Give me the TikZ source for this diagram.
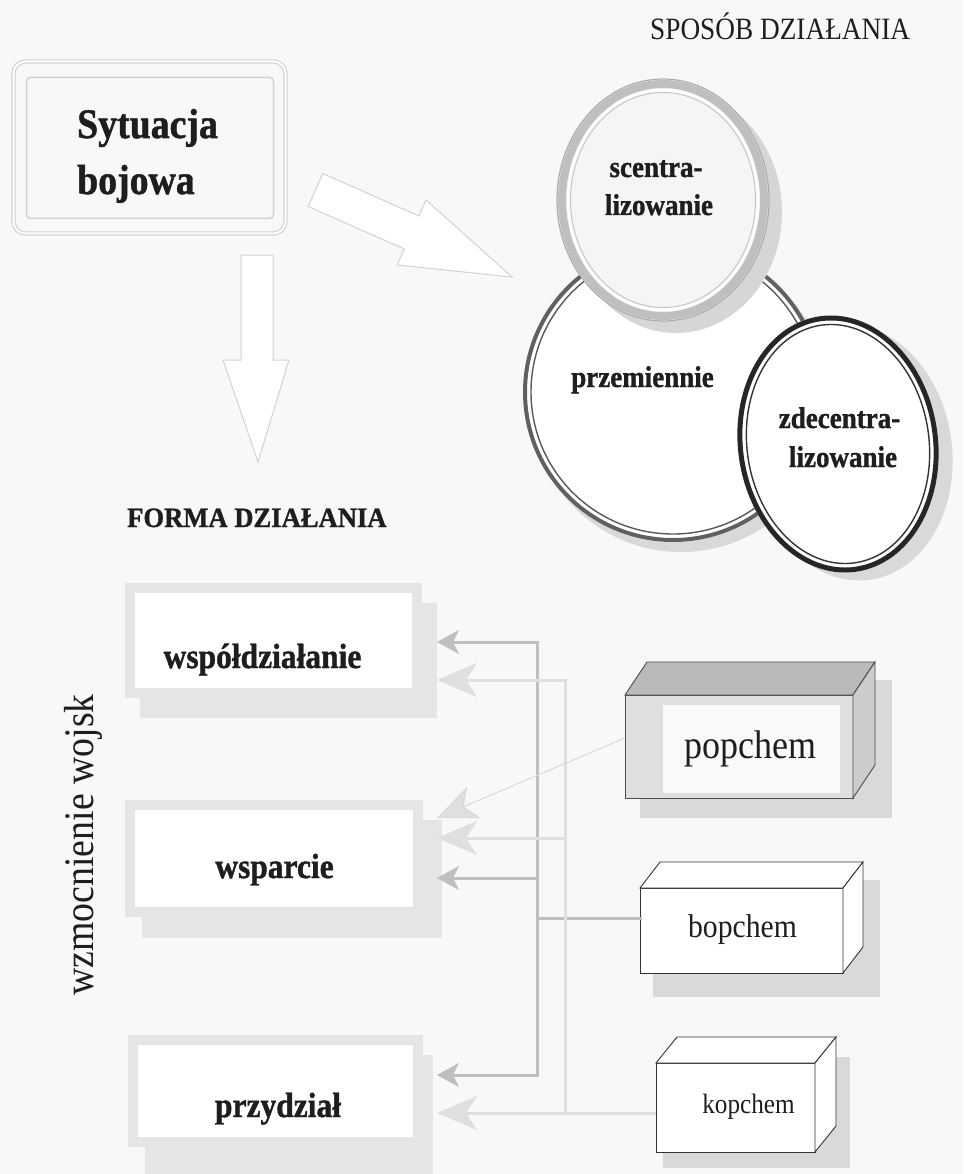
\documentclass[tikz,border=0pt]{standalone}
\usepackage{fontspec}
\setmainfont[BoldFeatures={FakeBold=1.2}]{Liberation Serif}
\usetikzlibrary{arrows.meta,calc}
\definecolor{ink}{HTML}{1E1E1E}
\definecolor{paper}{HTML}{F8F8F8}
\newcommand{\narrow}[2][0.9]{\scalebox{#1}[1]{#2}}

\begin{document}
\begin{tikzpicture}[x=1pt,y=-1pt,
  boldtext/.style={text=ink, inner sep=0pt, font=\fontsize{#1}{#1}\selectfont\bfseries},
  plaintext/.style={text=ink, inner sep=0pt, font=\fontsize{#1}{#1}\selectfont},
  blockarrow/.style={draw=gray!35, line width=1, fill=white},
  formframe/.style={draw=gray!20, line width=10, fill=white, inner sep=0pt, outer sep=0pt},
  formshadow/.style={fill=gray!20},
  cubeshadow/.style={fill=gray!30},
  cubeface/.style={draw=black!80, line width=0.9, fill=white, inner sep=0pt, outer sep=0pt},
  darktrunk/.style={draw=gray!50, line width=3, line cap=rect},
  lighttrunk/.style={draw=gray!25, line width=3, line cap=rect},
  darkflow/.style={draw=gray!50, line width=3, -{Stealth[length=22pt,width=24pt,inset=6pt]}},
  lightflow/.style={draw=gray!25, line width=3, -{Stealth[length=40pt,width=34pt,inset=11pt]}},
  lightthin/.style={draw=gray!30, line width=1, -{Stealth[length=40pt,width=34pt,inset=11pt,fill=gray!25]}},
]
\fill[paper] (0,0) rectangle (963,1174);
\useasboundingbox (0,0) rectangle (963,1174);

% --- combat situation box ---
\node[draw=gray!35, double=white, double distance=2, line width=1.2, rounded corners=12,
      minimum width=272, minimum height=172, inner sep=0pt, outer sep=0pt] (sit) at (149.5,147.5) {};
\draw[gray!35, line width=1.5, rounded corners=4]
  ($(sit.north west)+(13,16)$) rectangle ($(sit.south east)+(-12,-15)$);
\node[boldtext=42, anchor=base west] (sit1) at (77,138) {\narrow[0.9]{Sytuacja}};
\node[boldtext=42, anchor=base west] (sit2) at (77,194) {\narrow[0.9]{bojowa}};

% --- block arrows ---
\draw[blockarrow] (241,255) -- (273,255) -- (273,360) -- (289,360) -- (258,462)
  -- (223,360) -- (241,360) -- cycle;
\draw[blockarrow] (322.8,173.5) -- (418.9,216) -- (426,200) -- (512.2,277.1)
  -- (397.2,265) -- (404.3,249) -- (308.2,206.5) -- cycle;

% --- manner of action: three rings ---
\node[plaintext=31, anchor=base west] (sposob) at (650,40) {\narrow[0.88]{SPOSÓB DZIAŁANIA}};

\coordinate (cP) at (673,392);
\fill[gray!30] ($(cP)+(8,10)$) circle[radius=150];
\fill[white] (cP) circle[radius=150];
\draw[gray!75!black, line width=4] (cP) circle[radius=148];
\draw[gray!70!black, line width=1.4] (cP) circle[radius=142];

\coordinate (cS) at (663,200);
\fill[gray!32] ($(cS)+(13,12)$) ellipse[x radius=106, y radius=121];
\fill[gray!8] (cS) ellipse[x radius=106, y radius=121];
\draw[gray!50, line width=8] (cS) ellipse[x radius=101, y radius=116];
\draw[gray!65, line width=1.2] (cS) ellipse[x radius=106, y radius=121];
\draw[white, line width=2] (cS) ellipse[x radius=95, y radius=110];
\draw[gray!45, line width=1] (cS) ellipse[x radius=92.5, y radius=107.5];

\coordinate (cZ) at (838,444);
\fill[gray!30] ($(cZ)+(14,8)$) ellipse[x radius=100, y radius=129, rotate=8];
\fill[white] (cZ) ellipse[x radius=100, y radius=129, rotate=8];
\draw[black!85, line width=5] (cZ) ellipse[x radius=97.5, y radius=126.5, rotate=8];
\draw[black!80, line width=1.4] (cZ) ellipse[x radius=91, y radius=120, rotate=8];

\node[boldtext=30, anchor=base] (sc1) at (656,177) {\narrow{scentra-}};
\node[boldtext=30, anchor=base] (sc2) at (659,215) {\narrow{lizowanie}};
\node[boldtext=30, anchor=base] (prz) at (642.5,387) {\narrow{przemiennie}};
\node[boldtext=30, anchor=base] (zd1) at (839.5,428) {\narrow{zdecentra-}};
\node[boldtext=30, anchor=base] (zd2) at (843,467) {\narrow{lizowanie}};

% --- form of action ---
\node[boldtext=28, anchor=base west] (forma) at (127,527) {\narrow[0.95]{FORMA DZIAŁANIA}};

\fill[formshadow] (140,603) rectangle (437,718);
\node[formframe, minimum width=287, minimum height=105] (f1) at (273.5,640.5) {};
\node[boldtext=35, anchor=base] (f1t) at (262.5,668) {\narrow{współdziałanie}};

\fill[formshadow] (142,820) rectangle (442,938);
\node[formframe, minimum width=288, minimum height=107] (f2) at (274,858.5) {};
\node[boldtext=35, anchor=base] (f2t) at (274.5,878) {\narrow{wsparcie}};

\fill[formshadow] (145,1055) rectangle (433,1174);
\node[formframe, minimum width=285, minimum height=102] (f3) at (275.5,1091) {};
\node[boldtext=35, anchor=base] (f3t) at (278,1117) {\narrow{przydział}};

\node[plaintext=42, rotate=90, anchor=base] (wz) at (93,845) {\narrow{wzmocnienie wojsk}};

% --- unit blocks ---
\fill[cubeshadow] (640,680) rectangle (892,818);
\node[draw=gray!60!black, line width=0.9, fill=gray!25, inner sep=0pt, outer sep=0pt,
      minimum width=228, minimum height=103] (pop) at (739,746.5) {};
\filldraw[fill=gray!55, draw=gray!60!black, line width=0.9]
  (pop.north west) -- ++(22,-33) -- ++(228,0) -- (pop.north east) -- cycle;
\filldraw[fill=gray!40, draw=gray!60!black, line width=0.9]
  (pop.north east) -- ++(22,-33) -- ++(0,103) -- (pop.south east) -- cycle;
\fill[gray!5] ($(pop.north west)+(38,10)$) rectangle ($(pop.south east)+(-13,-5)$);
\node[plaintext=40, anchor=base] (popt) at (750,758) {\narrow{popchem}};

\fill[cubeshadow] (653,880) rectangle (880,997);
\node[cubeface, minimum width=203, minimum height=85] (bop) at (741.5,930.5) {};
\filldraw[cubeface] (bop.north west) -- ++(20,-26) -- ++(203,0) -- (bop.north east) -- cycle;
\filldraw[cubeface] (bop.north east) -- ++(20,-26) -- ++(0,85) -- (bop.south east) -- cycle;
\node[plaintext=33, anchor=base] (bopt) at (742.5,937) {\narrow{bopchem}};

\fill[cubeshadow] (663,1057) rectangle (850,1168);
\node[cubeface, minimum width=159, minimum height=89] (kop) at (735.5,1107.5) {};
\filldraw[cubeface] (kop.north west) -- ++(21,-26) -- ++(159,0) -- (kop.north east) -- cycle;
\filldraw[cubeface] (kop.north east) -- ++(21,-26) -- ++(0,89) -- (kop.south east) -- cycle;
\node[plaintext=28, anchor=base] (kopt) at (748.5,1113) {\narrow{kopchem}};

% --- distribution lines ---
\coordinate (bopout) at ($(bop.west)+(0,-12.5)$);
\coordinate (kopout) at ($(kop.west)+(0,5.5)$);
\coordinate (popout) at ($(pop.west)+(0,-8.5)$);
\coordinate (dj) at (537,918);
\coordinate (d1) at (537,642);
\coordinate (d2) at (537,878);
\coordinate (d3) at (537,1075);
\coordinate (l1) at (565,680);
\coordinate (l2) at (565,838);
\coordinate (l3) at (565,1113);
\coordinate (ta) at (437,642);
\coordinate (tb) at (437,680);
\coordinate (tc) at (437,818);
\coordinate (td) at (437,838);
\coordinate (te) at (437,878);
\coordinate (tf) at (437,1075);
\coordinate (tg) at (437,1113);

\draw[darktrunk] (bopout) -- (dj);
\draw[darktrunk] (d1) -- (d3);
\draw[darkflow] (d1) -- (ta);
\draw[darkflow] (d2) -- (te);
\draw[darkflow] (d3) -- (tf);

\draw[lighttrunk] (l1) -- (l3);
\draw[lightflow] (l1) -- (tb);
\draw[lightflow] (l2) -- (td);
\draw[lightflow] (kopout) -- (tg);
\draw[lightthin] (popout) -- (tc);
\end{tikzpicture}
\end{document}
